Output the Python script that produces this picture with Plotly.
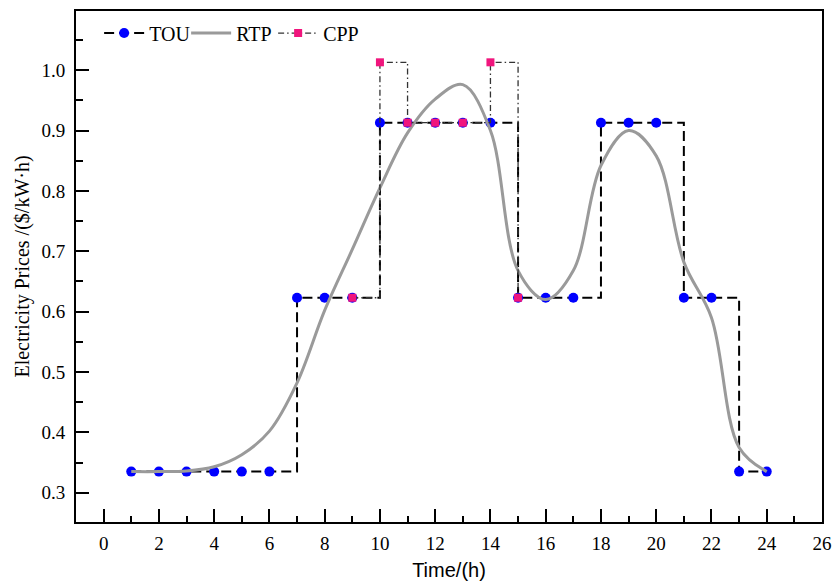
import plotly.graph_objects as go

hours = list(range(1, 25))
tou = [0.335]*6 + [0.623]*3 + [0.913]*5 + [0.623]*3 + [0.913]*3 + [0.623]*2 + [0.335]*2
rtp = [0.335, 0.335, 0.336, 0.343, 0.363, 0.402, 0.482, 0.602, 0.703, 0.805,
       0.896, 0.952, 0.976, 0.900, 0.668, 0.620, 0.668, 0.842, 0.900, 0.858,
       0.682, 0.590, 0.375, 0.335]
cpp_hours = [9, 10, 11, 12, 13, 14, 15]
cpp = [0.623, 1.013, 0.913, 0.913, 0.913, 1.013, 0.623]

xticks = list(range(0, 27, 2))
yticks = [0.3, 0.4, 0.5, 0.6, 0.7, 0.8, 0.9, 1.0]

serif = "Liberation Serif"

fig = go.Figure()
fig.add_trace(go.Scatter(
    x=hours, y=tou, name="TOU", mode="lines+markers",
    line=dict(color="black", width=2, dash="10px,5px", shape="hv"),
    marker=dict(symbol="circle", size=10, color="#0000FF"),
))
fig.add_trace(go.Scatter(
    x=hours, y=rtp, name="RTP", mode="lines",
    line=dict(color="#9a9a9a", width=3, shape="spline", smoothing=1.0),
))
fig.add_trace(go.Scatter(
    x=cpp_hours, y=cpp, name="CPP", mode="lines+markers",
    line=dict(color="#333333", width=1.3, dash="6px,3px,1.5px,3px", shape="hv"),
    marker=dict(symbol="square", size=8, color="#F0157D"),
))

axis_common = dict(
    showline=True, linewidth=2, linecolor="black", mirror=True,
    ticks="inside", ticklen=13, tickwidth=2, tickcolor="black",
    showgrid=False, zeroline=False, automargin=False,
    tickfont=dict(family=serif, size=19, color="black"),
)

fig.update_xaxes(
    range=[-1, 26], tickvals=xticks, ticktext=[str(v) for v in xticks],
    minor=dict(ticks="inside", ticklen=6, tickwidth=2, tickcolor="black", dtick=1, tick0=0, showgrid=False),
    ticklabelstandoff=3,
    title=dict(text="Time/(h)", font=dict(family="Liberation Sans", size=20, color="black"), standoff=10),
    **axis_common,
)
fig.update_yaxes(
    range=[0.2515, 1.098], tickvals=yticks, ticktext=[f"{v:.1f}" for v in yticks],
    minor=dict(ticks="inside", ticklen=7, tickwidth=2, tickcolor="black", dtick=0.05, tick0=0.05, showgrid=False),
    ticklabelstandoff=5,
    title=dict(text="Electricity Prices /($/kW·h)", font=dict(family=serif, size=20, color="black"), standoff=6),
    **axis_common,
)

fig.update_layout(
    width=832, height=581,
    margin=dict(l=76, r=10, t=11, b=59, autoexpand=False),
    plot_bgcolor="white", paper_bgcolor="white",
    showlegend=True,
    legend=dict(
        orientation="h", x=0.031, y=0.995, xanchor="left", yanchor="top",
        font=dict(family=serif, size=20, color="black"),
        bgcolor="rgba(0,0,0,0)", itemwidth=40, tracegroupgap=0,
        entrywidth=32, entrywidthmode="pixels",
    ),
)

fig.write_html("out.html")
